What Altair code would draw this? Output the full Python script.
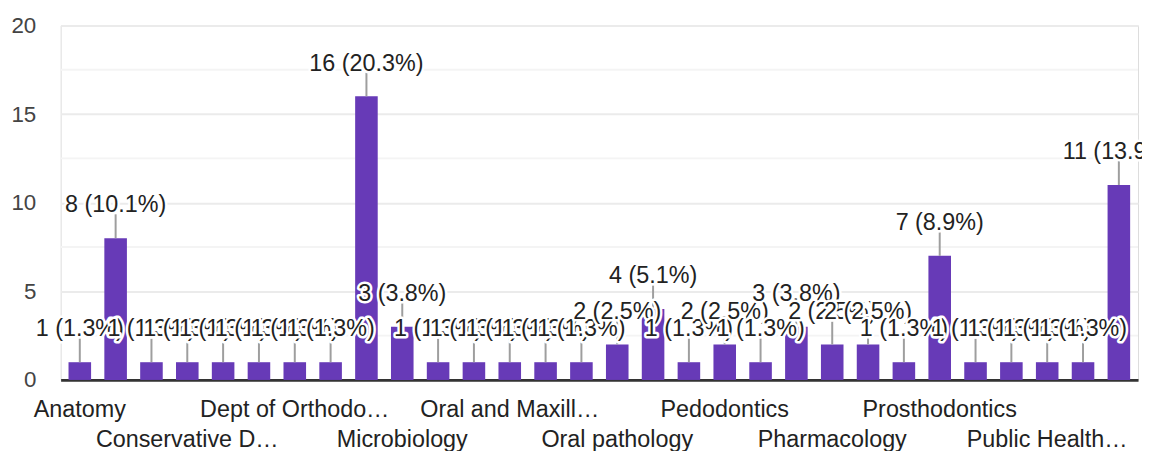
import json
import altair as alt
import pandas as pd

# ---- data ----
categories = [
    "Anatomy", "Biochemistry", "Community Dentistry",
    "Conservative Dentistry and Endodontics", "Dental Materials", "Department of Oral Medicine",
    "Dept of Orthodontics", "Forensic Odontology", "General Pathology",
    "Microbiology", "Oral Medicine and Radiology", "Oral Surgery",
    "Oral and Maxillofacial Surgery", "Oral histology", "Oral medicine",
    "Oral pathology", "Orthodontics", "Paediatric Dentistry",
    "Pedodontics", "Periodontics", "Periodontology",
    "Pharmacology", "Physiology", "Prosthetic Dentistry",
    "Prosthodontics", "Prosthodontics and Implantology", "Psychology",
    "Public Health Dentistry", "Public health", "Public health dentistry",
]
counts = [1, 8, 1, 1, 1, 1, 1, 1, 16, 3, 1, 1, 1, 1, 1, 2, 4, 1, 2, 1, 3, 2, 2, 1, 7, 1, 1, 1, 1, 11]
# labels shown on the x axis (every third category, as truncated in the reference)
tick_labels = [
    "Anatomy", "Conservative D\u2026", "Dept of Orthodo\u2026", "Microbiology",
    "Oral and Maxill\u2026", "Oral pathology", "Pedodontics", "Pharmacology",
    "Prosthodontics", "Public Health\u2026",
]
y_ticks = [0, 5, 10, 15, 20]
minor_grid = [2.5, 7.5, 12.5, 17.5]

total = sum(counts)
df = pd.DataFrame({"cat": categories, "value": counts, "idx": list(range(len(categories)))})
df["label"] = [f"{v} ({v / total * 100:.1f}%)" for v in counts]
minor = pd.DataFrame({"value": minor_grid})

FONT = "Liberation Sans"
cats_js = json.dumps(categories, ensure_ascii=False)
ticks_js = json.dumps(tick_labels, ensure_ascii=False)
ix = f"indexof({cats_js}, datum.value)"
label_expr = (
    f"({ix} % 3 != 0) ? '' : "
    f"(({ix} % 6 == 0) ? {ticks_js}[{ix} / 3] : ['', {ticks_js}[{ix} / 3]])"
)

x_enc = alt.X(
    "cat:N",
    sort=categories,
    scale=alt.Scale(paddingInner=0.37, paddingOuter=0.22),
    axis=alt.Axis(
        title=None, ticks=False, grid=False, labelAngle=0, labelExpr=label_expr,
        labelOverlap=False, labelPadding=18, labelFontSize=23.5, labelFont=FONT,
        labelColor="#222222", labelLineHeight=30.5, labelLimit=400, labelBound=False,
        labelFlush=False, domainColor="#333333", domainWidth=2.8,
    ),
)
y_enc = alt.Y(
    "value:Q",
    scale=alt.Scale(domain=[0, 20], nice=False),
    axis=alt.Axis(
        title=None, values=y_ticks, ticks=False, domain=False, labelPadding=25,
        labelFontSize=22.5, labelFont=FONT, labelColor="#444444",
        gridColor="#ebebeb", gridWidth=2,
    ),
)

minor_layer = alt.Chart(minor).mark_rule(color="#f4f4f4", strokeWidth=2).encode(y=y_enc)
bars = alt.Chart(df).mark_bar(color="#673ab7").encode(x=x_enc, y=y_enc)
leaders = alt.Chart(df).mark_rule(color="#9e9e9e", strokeWidth=2, y2Offset=-24).encode(
    x=x_enc, y=y_enc, y2="value:Q"
)

text_layers = []
for i in range(len(categories)):
    base = alt.Chart(df).transform_filter(alt.datum.idx == i).encode(
        x=x_enc, y=y_enc, text="label:N"
    )
    halo = base.mark_text(
        dy=-26, baseline="alphabetic", fontSize=23.5, font=FONT,
        fill="white", stroke="white", strokeWidth=5, strokeJoin="round",
    )
    txt = base.mark_text(dy=-26, baseline="alphabetic", fontSize=23.5, font=FONT, color="#222222")
    text_layers += [halo, txt]

chart = alt.layer(minor_layer, bars, leaders, *text_layers).properties(
    width=1085,
    height=357,
    autosize=alt.AutoSizeParams(type="none"),
    padding={"left": 53, "top": 16, "right": 4, "bottom": 70},
).configure_view(stroke="#ebebeb", strokeWidth=2).configure(background="white")

chart.save("out.html", embed_options={"renderer": "svg", "actions": False})
